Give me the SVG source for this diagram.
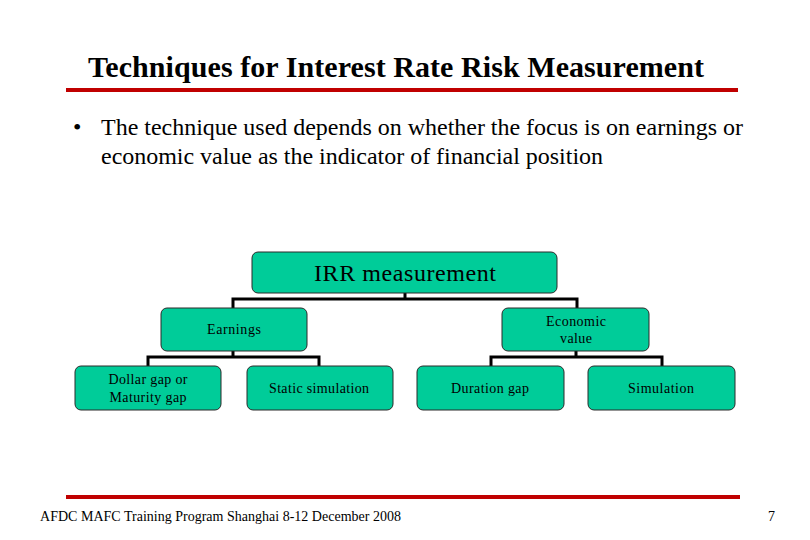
<svg xmlns="http://www.w3.org/2000/svg" width="810" height="540" viewBox="0 0 810 540">
<style>
.box{fill:#00CC99;stroke:#2a2a2a;stroke-width:1}
.conn{fill:none;stroke:#000;stroke-width:3}
.t{font-family:"Liberation Serif","Times New Roman",serif;fill:#000}
.small{font-size:14px;text-anchor:middle}
.red{stroke:#C00000;stroke-width:4}
</style>
<rect width="810" height="540" fill="#fff"/>
<text class="t" x="88" y="77" font-size="30" font-weight="bold" textLength="616">Techniques for Interest Rate Risk Measurement</text>
<line class="red" x1="66" y1="90" x2="738" y2="90"/>
<text class="t" x="73" y="135" font-size="24">•</text>
<text class="t" x="101" y="135" font-size="24" textLength="642">The technique used depends on whether the focus is on earnings or</text>
<text class="t" x="101" y="164" font-size="24" textLength="502">economic value as the indicator of financial position</text>
<g id="connectors">
<path class="conn" d="M405 293V299M233 308V299H577V308"/>
<path class="conn" d="M233 351V357M148 366V357H319V366"/>
<path class="conn" d="M576 351V357M491 366V357H662V366"/>
</g>
<g id="irr"><rect class="box" x="252" y="252" width="305" height="41" rx="6"/><text class="t" x="405" y="281" font-size="24" text-anchor="middle" textLength="182">IRR measurement</text></g>
<g id="earnings"><rect class="box" x="161" y="308" width="146" height="43" rx="6"/><text class="t small" x="234" y="334" textLength="54">Earnings</text></g>
<g id="economic"><rect class="box" x="502" y="308" width="147" height="43" rx="6"/><text class="t small" x="576" y="326" textLength="60">Economic</text><text class="t small" x="576" y="343" textLength="32">value</text></g>
<g id="dollar"><rect class="box" x="75" y="366" width="146" height="44" rx="6"/><text class="t small" x="148" y="384" textLength="79">Dollar gap or</text><text class="t small" x="148" y="402" textLength="77">Maturity gap</text></g>
<g id="static"><rect class="box" x="247" y="366" width="146" height="44" rx="6"/><text class="t small" x="319" y="393" textLength="100">Static simulation</text></g>
<g id="duration"><rect class="box" x="417" y="366" width="147" height="44" rx="6"/><text class="t small" x="490" y="393" textLength="78">Duration gap</text></g>
<g id="simulation"><rect class="box" x="588" y="366" width="147" height="44" rx="6"/><text class="t small" x="661" y="393" textLength="66">Simulation</text></g>
<line class="red" x1="66" y1="497" x2="740" y2="497"/>
<text class="t" x="40" y="521" font-size="14" textLength="361">AFDC MAFC Training Program Shanghai 8-12 December 2008</text>
<text class="t" x="775" y="521" font-size="14" text-anchor="end">7</text>
</svg>
